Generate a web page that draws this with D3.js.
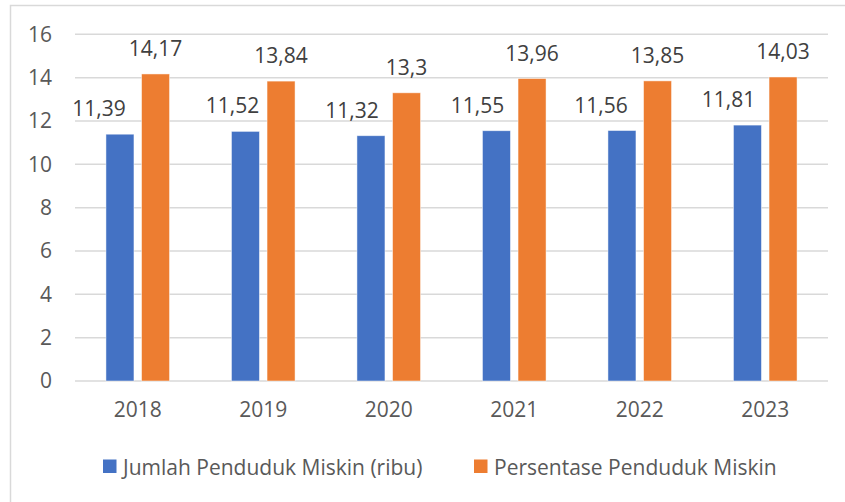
<!DOCTYPE html>
<html>
<head>
<meta charset="utf-8">
<script src="https://cdn.jsdelivr.net/npm/d3@7"></script>
<style>
  html, body { margin: 0; padding: 0; background: #fff; }
  svg { display: block; }
  text { font-family: "Open Sans", "Noto Sans", sans-serif; }
</style>
</head>
<body>
<svg id="chart" width="845" height="502"></svg>
<script>
const categories = ["2018", "2019", "2020", "2021", "2022", "2023"];
const seriesNames = ["Jumlah Penduduk Miskin (ribu)", "Persentase Penduduk Miskin"];
const jumlah = [11.39, 11.52, 11.32, 11.55, 11.56, 11.81];
const persentase = [14.17, 13.84, 13.3, 13.96, 13.85, 14.03];
const jumlahLabels = ["11,39", "11,52", "11,32", "11,55", "11,56", "11,81"];
const persentaseLabels = ["14,17", "13,84", "13,3", "13,96", "13,85", "14,03"];
const yTicks = [0, 2, 4, 6, 8, 10, 12, 14, 16];
// horizontal nudge of the first series' data labels (as placed in the original)
const jumlahLabelNudge = [-21, -13, -19, -19, -21, -19];

const colors = ["#4472c4", "#ed7d31"];
const series = [jumlah, persentase];
const seriesLabels = [jumlahLabels, persentaseLabels];

const svg = d3.select("#chart");
const W = 845, H = 502;
const plot = { left: 75, right: 828, top: 34.3, bottom: 381 };
const FS = 21;

// outer chart border
svg.append("rect")
  .attr("x", 10.5).attr("y", 5.5)
  .attr("width", W).attr("height", H + 20)
  .attr("fill", "#fff").attr("stroke", "#d9d9d9").attr("stroke-width", 1.5);

const x0 = d3.scaleBand().domain(categories).range([plot.left, plot.right]).padding(0);
const bw = x0.bandwidth();
const x1 = d3.scaleBand().domain([0, 1])
  .range([bw * 0.2466, bw * 0.7534]).paddingInner(0.213).paddingOuter(0);
const y = d3.scaleLinear().domain([0, 16]).range([plot.bottom, plot.top]);

// gridlines
svg.append("g").selectAll("line").data(yTicks).join("line")
  .attr("x1", plot.left).attr("x2", plot.right)
  .attr("y1", d => y(d)).attr("y2", d => y(d))
  .attr("stroke", "#d9d9d9").attr("stroke-width", 1.5);

// y axis labels
const yAxis = d3.axisLeft(y).tickValues(yTicks).tickSize(0).tickPadding(0).tickFormat(d3.format("d"));
const gy = svg.append("g").attr("transform", `translate(52,0)`).call(yAxis);
gy.select(".domain").remove();
gy.selectAll("text").attr("font-size", FS).attr("fill", "#595959")
  .attr("font-family", '"Open Sans", sans-serif');

// x axis labels
const xAxis = d3.axisBottom(x0).tickSize(0).tickPadding(0);
const gx = svg.append("g").attr("transform", `translate(0,${plot.bottom + 21})`).call(xAxis);
gx.select(".domain").remove();
gx.selectAll("text").attr("font-size", FS).attr("fill", "#595959")
  .attr("font-family", '"Open Sans", sans-serif');

// bars
series.forEach((vals, si) => {
  const g = svg.append("g");
  g.selectAll("rect").data(vals).join("rect")
    .attr("x", (d, i) => x0(categories[i]) + x1(si))
    .attr("width", x1.bandwidth())
    .attr("y", d => y(d))
    .attr("height", d => y(0) - y(d))
    .attr("fill", colors[si])
    .attr("stroke", "#ffffff").attr("stroke-opacity", 0.6).attr("stroke-width", 0.8);

  g.selectAll("text").data(vals).join("text")
    .attr("x", (d, i) => x0(categories[i]) + x1(si) + x1.bandwidth() / 2 + (si === 0 ? jumlahLabelNudge[i] : 0))
    .attr("y", d => y(d) - 18)
    .attr("text-anchor", "middle")
    .attr("font-size", FS)
    .attr("fill", "#404040")
    .text((d, i) => seriesLabels[si][i]);
});

// legend
const legendItems = [
  { sq: 103, tx: 123 },
  { sq: 474, tx: 494 }
];
const lg = svg.append("g");
legendItems.forEach((it, i) => {
  lg.append("rect").attr("x", it.sq).attr("y", 459.5)
    .attr("width", 13.5).attr("height", 13.5).attr("fill", colors[i]);
  lg.append("text").attr("x", it.tx).attr("y", 466.5)
    .attr("dominant-baseline", "central")
    .attr("font-size", FS).attr("fill", "#595959")
    .text(seriesNames[i]);
});
</script>
</body>
</html>
